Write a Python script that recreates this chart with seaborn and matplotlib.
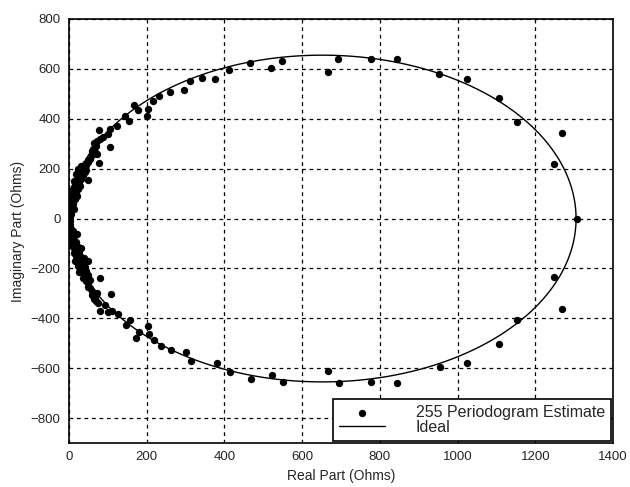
import numpy as np
import pandas as pd
import matplotlib
matplotlib.use("Agg")
import matplotlib.pyplot as plt
import seaborn as sns

# ---- data ----
est_real = [
    # upper arc
    547, 519, 466, 411, 376, 342, 311, 296, 260, 232, 217, 204, 202, 178, 168, 155, 144, 124,
    106, 106, 101, 77, 88, 77, 65, 50, 71,
    693, 666, 777, 843, 953, 1025, 1107, 1152, 1268, 1249, 1307,
    # lower arc
    1249, 1270, 1152, 1107, 1025, 955, 845, 777, 696, 667,
    552, 523, 468, 414, 380, 313, 300, 262, 237, 220, 206, 204, 180, 172, 157, 146, 127, 110,
    108, 101, 93, 80, 80, 71, 65, 50,
    # dense cluster, upper
    2, 4, 3, 6, 5, 8, 7, 10, 12, 9, 14, 15, 18, 13, 20, 22, 25, 18, 28, 30, 24, 35, 40, 32,
    45, 38, 50, 55, 48, 60, 58, 62, 66, 72, 70, 80, 68,
    10, 15, 18, 22, 25, 30, 35, 42, 28, 20, 12, 40, 45,
    # dense cluster, lower
    2, 3, 5, 4, 7, 6, 9, 11, 8, 13, 15, 12, 18, 20, 16, 24, 22, 28, 32, 26, 36, 40, 35, 45,
    50, 48, 55, 60, 58, 65, 70, 75, 68,
    10, 14, 18, 22, 26, 30, 34, 40, 44, 50, 55, 20, 30, 38,
]
est_imag = [
    631, 605, 625, 595, 560, 564, 551, 516, 508, 490, 472, 441, 412, 437, 454, 392, 410, 369,
    358, 287, 338, 356, 327, 224, 301, 156, 257,
    641, 588, 639, 639, 581, 560, 485, 388, 344, 218, 0,
    -234, -361, -405, -505, -581, -594, -661, -657, -661, -612,
    -657, -628, -645, -614, -580, -570, -534, -528, -511, -485, -461, -431, -454, -477, -407,
    -427, -383, -370, -301, -374, -347, -370, -238, -297, -321, -170,
    5, 20, 35, 45, 60, 70, 85, 95, 105, 115, 125, 135, 145, 150, 160, 170, 175, 180, 185, 195,
    200, 200, 205, 210, 215, 190, 225, 240, 235, 255, 270, 280, 300, 310, 290, 320, 265,
    60, 80, 100, 120, 140, 160, 175, 185, 130, 90, 40, 220, 195,
    -10, -25, -40, -55, -65, -80, -90, -100, -110, -120, -130, -140, -150, -160, -170, -180,
    -190, -200, -205, -215, -220, -230, -240, -250, -260, -275, -280, -290, -305, -310, -330,
    -340, -320,
    -50, -70, -95, -115, -135, -155, -175, -195, -210, -225, -245, -60, -120, -160,
]

# ideal curve: circle (centre and radii in Ohms)
ideal_center_real = 652
ideal_radius_real = 653
ideal_radius_imag = 655

x_ticks = [0, 200, 400, 600, 800, 1000, 1200, 1400]
y_ticks = [-800, -600, -400, -200, 0, 200, 400, 600, 800]

t = np.linspace(0, 2 * np.pi, 400)
ideal = pd.DataFrame({
    "real": ideal_center_real + ideal_radius_real * np.cos(t),
    "imag": ideal_radius_imag * np.sin(t),
})
est = pd.DataFrame({"real": est_real, "imag": est_imag})

sns.set_style("white")
plt.rcParams["font.family"] = ["Liberation Sans", "DejaVu Sans"]

fig = plt.figure(figsize=(6.3, 4.87), dpi=100)
ax = fig.add_axes([0.1095, 0.0903, 0.8635, 0.8707])

ax.grid(True, color="black", linestyle=(0, (3, 3)), linewidth=0.9)
ax.set_axisbelow(True)

sns.scatterplot(data=est, x="real", y="imag", ax=ax, color="black", s=28,
                edgecolor="black", linewidth=0, label="255 Periodogram Estimate", zorder=3)
sns.lineplot(data=ideal, x="real", y="imag", ax=ax, color="black", linewidth=1.0,
             sort=False, estimator=None, label="Ideal", zorder=2)

ax.set_xlim(0, 1400)
ax.set_ylim(-900, 800)
ax.set_xticks(x_ticks)
ax.set_yticks(y_ticks)
ax.tick_params(axis="both", labelsize=9.5, length=0, pad=6)
for s in ax.spines.values():
    s.set_color("black")
    s.set_linewidth(1.2)

ax.set_xlabel("Real Part (Ohms)", fontsize=10)
ax.set_ylabel("Imaginary Part (Ohms)", fontsize=10)

leg = ax.legend(loc="lower right", frameon=True, fancybox=False, edgecolor="black",
                fontsize=11.5, borderpad=0.35, labelspacing=0.0, handlelength=2.9,
                handletextpad=1.9, borderaxespad=0.15, framealpha=1)
leg.get_frame().set_linewidth(1.2)

fig.savefig("out.png", dpi=100)
